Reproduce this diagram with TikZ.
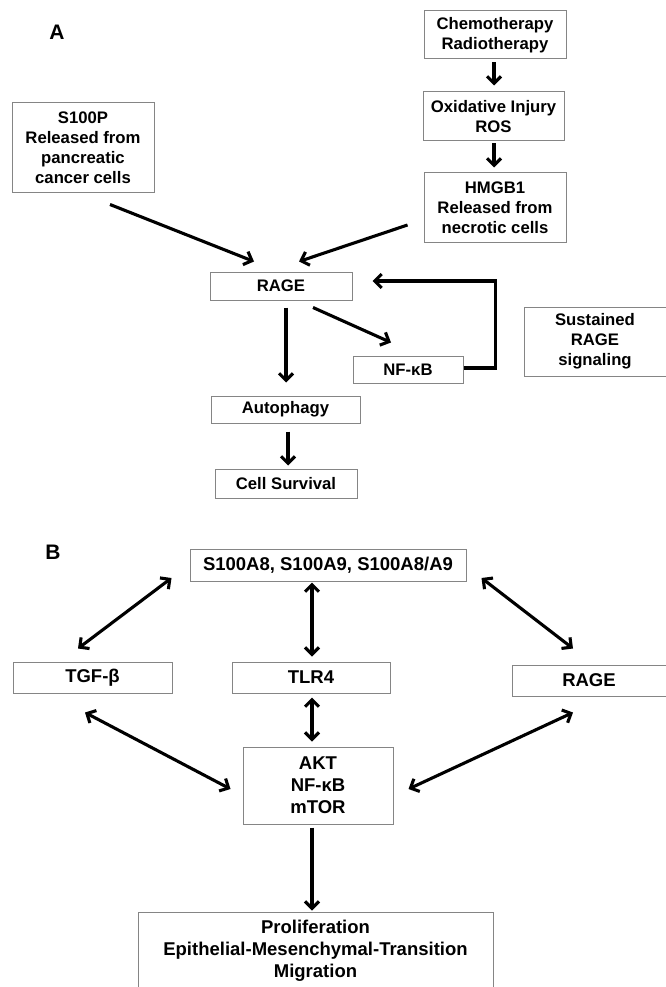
\documentclass[tikz,border=0pt]{standalone}
\usepackage{fontspec}
\setmainfont{Liberation Sans}
\usepackage{xcolor}
\usepackage{tikz}
\usetikzlibrary{calc,arrows.meta}
\definecolor{bg}{HTML}{FFFFFF}
\definecolor{frame}{HTML}{858585}
\definecolor{ink}{HTML}{000000}
\tikzset{
  box/.style={draw=frame, fill=bg, line width=1pt, inner sep=0pt, align=center, text=ink},
  boxa/.style={box, font=\bfseries\fontsize{16.7}{20}\selectfont},
  boxb/.style={box, font=\bfseries\fontsize{18.5}{22}\selectfont},
  arr/.style={draw=ink, line width=3.1pt, -{Straight Barb[length=7pt,width=14pt,line width=3.1pt]}},
  darr/.style={draw=ink, line width=3.1pt, {Straight Barb[length=7pt,width=14pt,line width=3.1pt]}-{Straight Barb[length=7pt,width=14pt,line width=3.1pt]}},
  panel/.style={text=ink, font=\bfseries\fontsize{21}{24}\selectfont},
}

\begin{document}
\begin{tikzpicture}[x=1pt,y=-1pt]
  \useasboundingbox[fill=bg] (0,0) rectangle (665,987);
  % panel A
  \node[panel] (labA) at (57,32) {A};
  \node[boxa, minimum width=142, minimum height=48] (chemo) at (495,35) {Chemotherapy\\Radiotherapy};
  \node[boxa, minimum width=141, minimum height=49] (oxid) at (493.5,116.5) {Oxidative Injury\\ROS};
  \node[boxa, minimum width=142, minimum height=69] (hmgb) at (495,207.5) {HMGB1\\Released from\\necrotic cells};
  \node[boxa, minimum width=142, minimum height=90] (spro) at (83,148) {S100P\\Released from\\pancreatic\\cancer cells};
  \node[boxa, minimum width=142, minimum height=28] (rageA) at (281,286) {RAGE};
  \node[boxa, minimum width=110, minimum height=27] (nfkbA) at (408,369.5) {NF-κB};
  \node[boxa, minimum width=149, minimum height=27] (auto) at (285.5,409.5) {Autophagy};
  \node[boxa, minimum width=142, minimum height=29] (surv) at (286,483.5) {Cell Survival};
  \node[boxa, minimum width=142, minimum height=69] (sust) at (595,341.5) {Sustained\\RAGE\\signaling};
  \draw[arr, shorten <=3pt, shorten >=6pt] ([xshift=-1]chemo.south) -- ([xshift=0.5]oxid.north);
  \draw[arr, shorten <=2pt, shorten >=5pt] ([xshift=0.5]oxid.south) -- ([xshift=-1]hmgb.north);
  \draw[arr] ([shift={(27,11)}]spro.south) -- ([shift={(-27,-10)}]rageA.north);
  \draw[arr] ([shift={(-16,17.5)}]hmgb.west) -- ([shift={(18,-10)}]rageA.north);
  \draw[arr] ([shift={(0,-1.5)}]nfkbA.east) -- ++(32,0) |- ([shift={(20,-5)}]rageA.east);
  \draw[arr] ([shift={(32,7)}]rageA.south) -- ([shift={(-17,-13)}]nfkbA.north);
  \draw[arr, shorten <=7pt, shorten >=13pt] ([xshift=5]rageA.south) -- ([xshift=0.5]auto.north);
  \draw[arr, shorten <=8pt, shorten >=3pt] ([xshift=2.5]auto.south) -- ([xshift=2]surv.north);
  % panel B
  \node[panel] (labB) at (53,552) {B};
  \node[boxb, minimum width=276, minimum height=32] (calpro) at (328,565) {S100A8, S100A9, S100A8/A9};
  \node[boxb, minimum width=159, minimum height=31] (tgf) at (92.5,677.5) {TGF-β};
  \node[boxb, minimum width=158, minimum height=31] (tlr) at (311,677.5) {TLR4};
  \node[boxb, minimum width=154, minimum height=31] (rageB) at (589,680.5) {RAGE};
  \node[boxb, minimum width=150, minimum height=77] (akt) at (318,785.5) {AKT\\NF-κB\\mTOR};
  \node[boxb, minimum width=355, minimum height=78] (prolif) at (315.5,951) {Proliferation\\Epithelial-Mesenchymal-Transition\\Migration};
  \draw[darr] ([shift={(-18,13)}]calpro.west) -- ([shift={(-14.5,-13)}]tgf.north);
  \draw[darr, shorten <=1pt, shorten >=5pt] ([xshift=-16]calpro.south) -- ([xshift=1]tlr.north);
  \draw[darr] ([shift={(15,13)}]calpro.east) -- ([shift={(-16,-16)}]rageB.north);
  \draw[darr] ([shift={(-7.5,19)}]tgf.south) -- ([shift={(-12,3.5)}]akt.west);
  \draw[darr, shorten <=4pt, shorten >=5pt] ([xshift=1]tlr.south) -- ([xshift=-6]akt.north);
  \draw[darr] ([shift={(-16,16)}]rageB.south) -- ([shift={(15,3.5)}]akt.east);
  \draw[arr, shorten <=3pt, shorten >=1pt] ([xshift=-6]akt.south) -- ([xshift=-3.5]prolif.north);
\end{tikzpicture}
\end{document}
